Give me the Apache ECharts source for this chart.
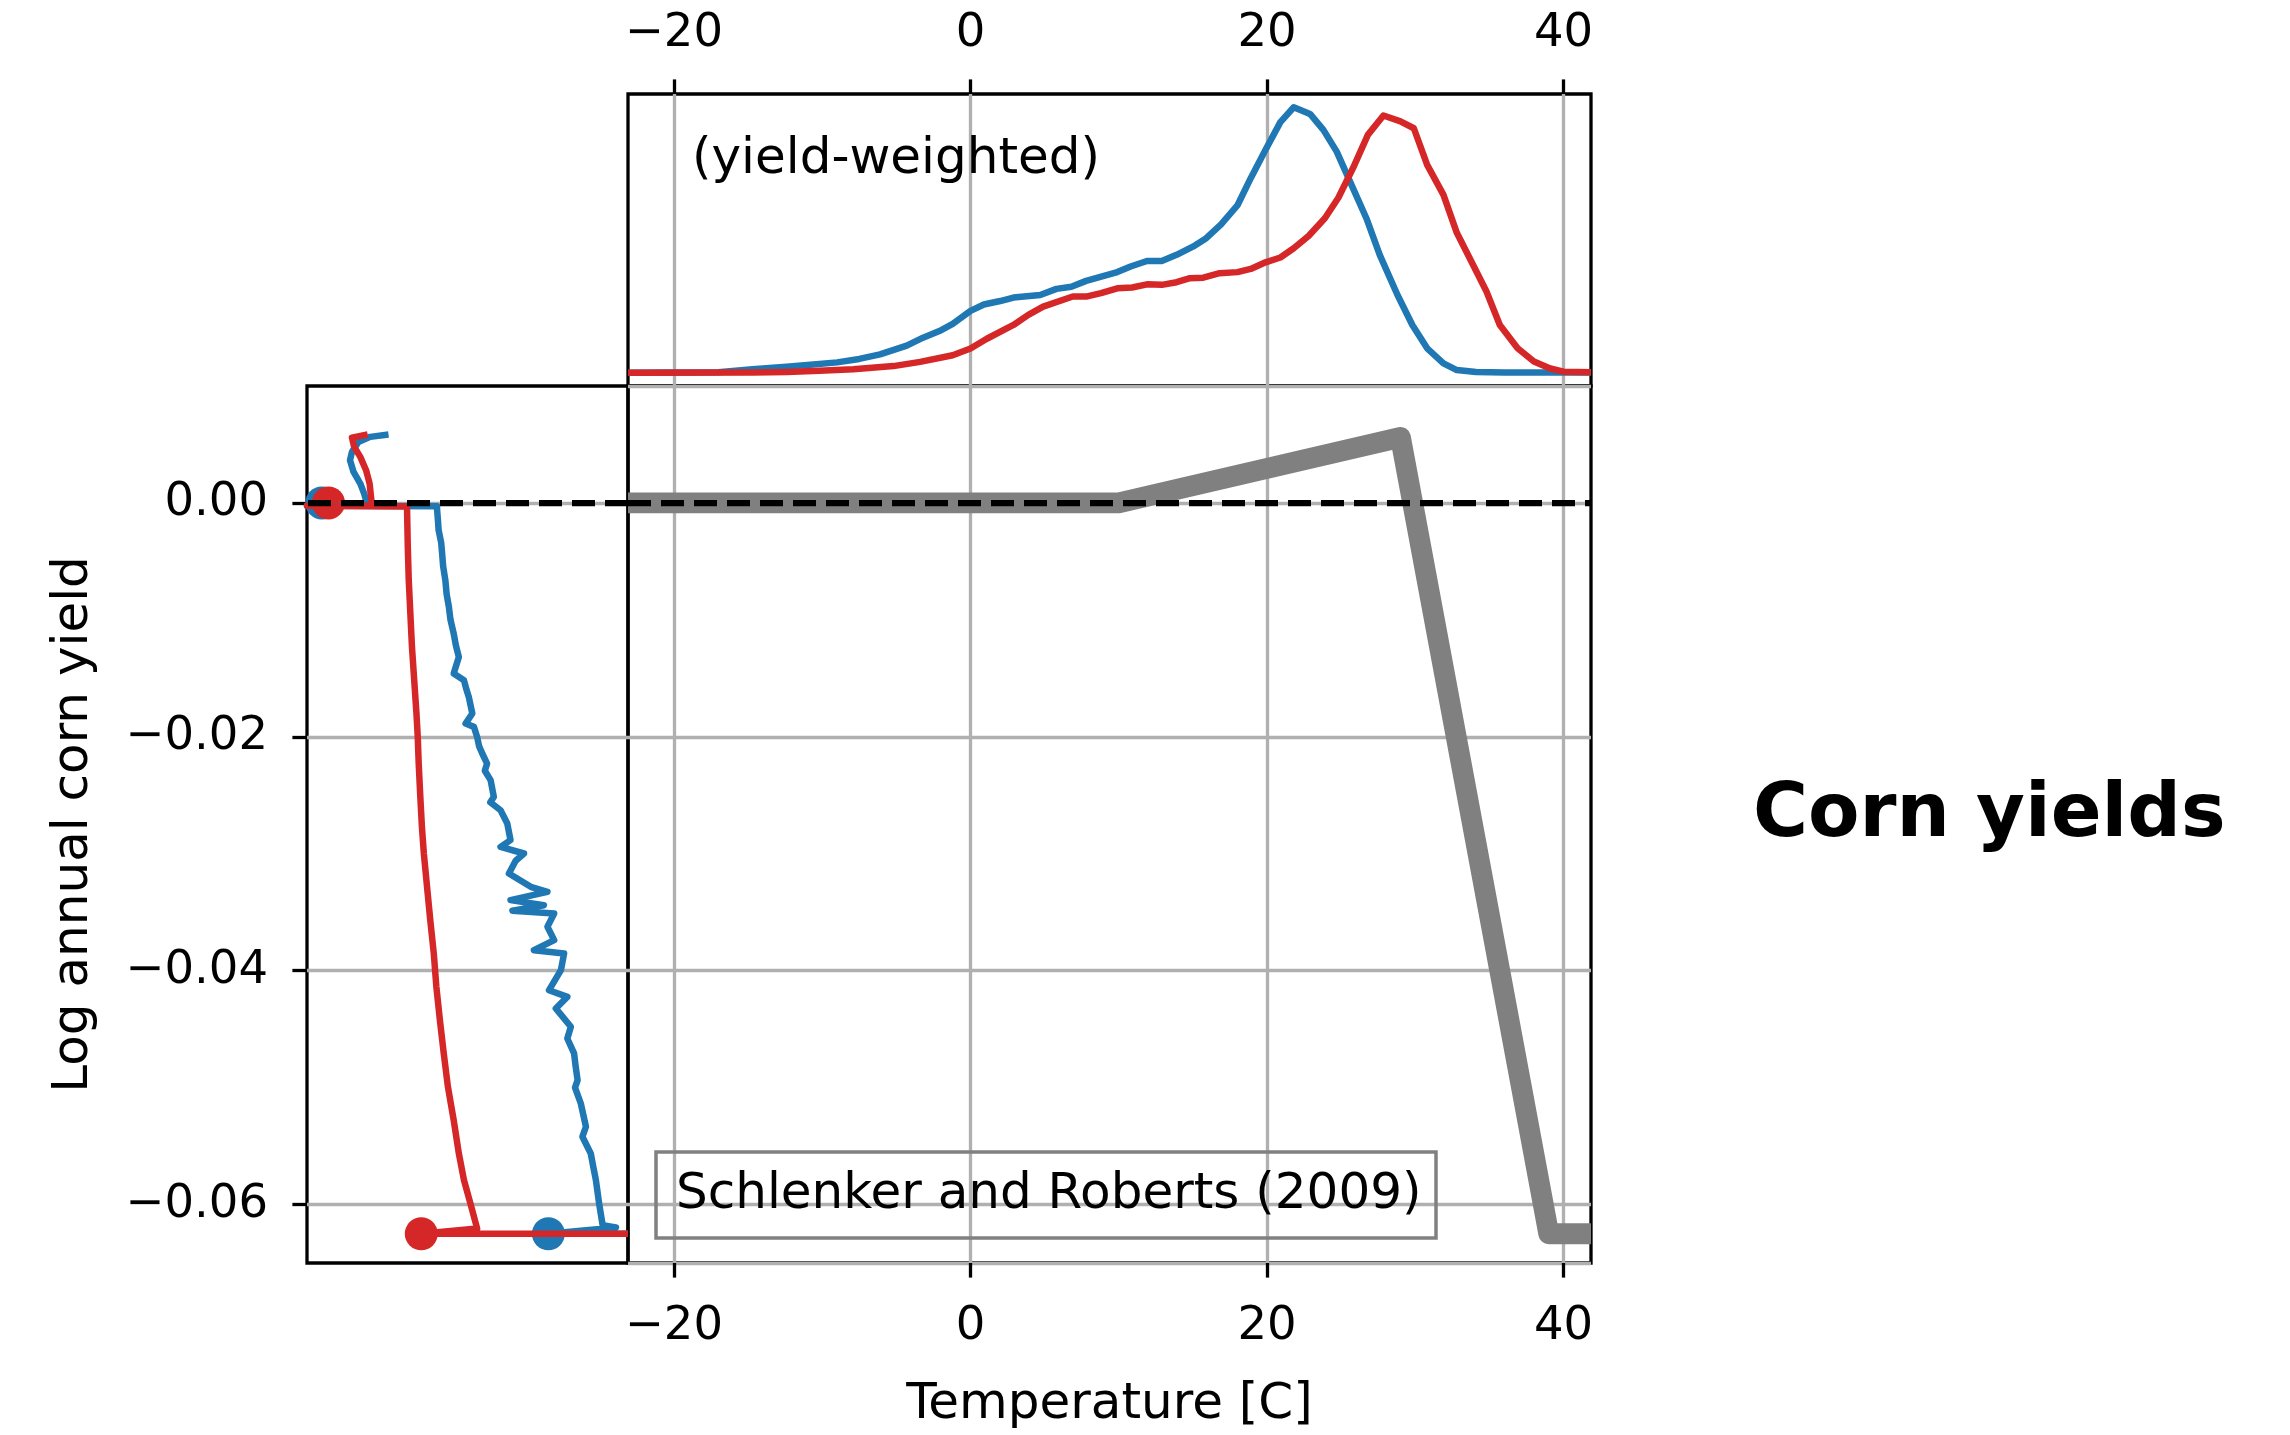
<!DOCTYPE html>
<html><head><meta charset="utf-8">
<script src="https://cdn.jsdelivr.net/npm/echarts@6/dist/echarts.min.js"></script>
<style>html,body{margin:0;padding:0;background:#fff}#c{width:2290px;height:1435px}</style>
</head><body><div id="c"></div>
<script>
// ---------------- data ----------------
const tempTicks = [-20, 0, 20, 40];
const yieldTicks = [-0.06, -0.04, -0.02, 0];
const tempRange = [-23.1, 41.85];
const yieldRange = [-0.065, 0.01];

// top panel: yield-weighted temperature distribution [temperature, relative density]
const densityBlue = [[-23.1,0],[-17,0.002],[-14.7,0.013],[-12.4,0.023],[-11,0.029],[-9,0.039],[-7.5,0.052],[-6.1,0.069],[-4.3,0.102],[-3.2,0.132],[-2.1,0.157],[-1.2,0.184],[0,0.233],[0.9,0.257],[2,0.270],[2.9,0.283],[4.7,0.293],[5.8,0.316],[6.8,0.324],[7.8,0.346],[9.9,0.379],[10.8,0.400],[11.9,0.421],[12.9,0.421],[13.9,0.444],[15,0.475],[15.9,0.507],[16.9,0.559],[18,0.630],[18.9,0.733],[19.9,0.840],[20.9,0.944],[21.8,1.0],[22.9,0.975],[23.8,0.915],[24.7,0.833],[25.6,0.720],[26.7,0.582],[27.6,0.444],[28.8,0.293],[29.8,0.180],[30.8,0.092],[31.9,0.035],[32.8,0.010],[34.1,0.003],[36,0.001],[41.85,0.001]];
const densityRed = [[-23.1,0],[-14.7,0.001],[-12.4,0.003],[-10.2,0.007],[-7.9,0.013],[-5.2,0.025],[-3.4,0.041],[-1.2,0.066],[0,0.091],[1.1,0.128],[2.9,0.180],[3.9,0.218],[4.9,0.249],[6.9,0.287],[7.8,0.287],[8.8,0.300],[9.9,0.318],[10.9,0.321],[11.9,0.333],[12.9,0.331],[13.9,0.341],[14.8,0.356],[15.7,0.358],[16.8,0.375],[18,0.379],[18.9,0.391],[19.9,0.416],[20.9,0.434],[21.8,0.469],[22.8,0.515],[23.9,0.582],[24.8,0.658],[25.8,0.771],[26.8,0.896],[27.85,0.969],[29,0.947],[29.9,0.921],[30.8,0.783],[31.9,0.670],[32.8,0.527],[33.9,0.406],[34.8,0.306],[35.7,0.180],[36.9,0.092],[38,0.042],[39.1,0.016],[40,0.004],[41.85,0.002]];

// main panel: piecewise-linear yield response
const responseTemps = [-23.1, 10, 29, 39, 41.85];
const responseYield = [0, 0, 0.0056, -0.0625, -0.0625];

// left panel: distribution of yield impacts [density (arb.), log yield]
const marginBlue = [[74.6,0.00585],[80.3,0.00565],[84.0,0.00522],[86.0,0.00436],[86.6,0.00365],[85.5,0.00265],[83.4,0.00166],[82.2,0.00080],[81.6,0.00023],[81.4,-0.00025],[100,-0.00025],[59.5,-0.00028],[59.5,-0.00048],[59.2,-0.00150],[59.0,-0.00233],[58.2,-0.00340],[57.9,-0.00433],[57.6,-0.00540],[56.9,-0.00661],[56.5,-0.00780],[55.8,-0.00889],[55.3,-0.01000],[54.3,-0.01117],[53.6,-0.01220],[52.7,-0.01317],[54.3,-0.01459],[51.1,-0.01516],[50.4,-0.01590],[49.6,-0.01659],[48.5,-0.01801],[50.6,-0.01887],[48.0,-0.01915],[47.0,-0.02001],[46.4,-0.02080],[45.4,-0.02143],[43.9,-0.02229],[44.6,-0.02290],[42.8,-0.02371],[41.8,-0.02514],[42.9,-0.02560],[39.7,-0.02628],[37.6,-0.02742],[36.6,-0.02884],[39.7,-0.02941],[32.4,-0.02998],[35.0,-0.03060],[37.1,-0.03169],[30.3,-0.03283],[25.1,-0.03326],[36.6,-0.03397],[26.2,-0.03440],[36.0,-0.03488],[23.0,-0.03511],[25.1,-0.03625],[23.0,-0.03739],[29.3,-0.03825],[19.9,-0.03853],[20.9,-0.03996],[24.6,-0.04167],[18.9,-0.04224],[22.5,-0.04323],[17.8,-0.04480],[18.9,-0.04580],[16.8,-0.04708],[16.3,-0.04820],[15.7,-0.04936],[16.5,-0.05000],[14.7,-0.05136],[13.1,-0.05335],[14.2,-0.05420],[11.6,-0.05563],[10.8,-0.05680],[10.0,-0.05791],[9.0,-0.05991],[7.9,-0.06176],[3.75,-0.06196],[24.8,-0.0625],[0,-0.0625]];
const marginRed = [[81.1,0.00585],[86.0,0.00559],[85.3,0.00479],[83.4,0.00394],[81.6,0.00280],[80.5,0.00166],[80.0,0.00037],[79.8,-0.00025],[100,-0.00025],[68.85,-0.00030],[68.6,-0.00376],[68.3,-0.00661],[67.8,-0.00946],[67.3,-0.01231],[66.6,-0.01516],[65.9,-0.01801],[65.5,-0.02001],[65.2,-0.02229],[64.7,-0.02514],[64.2,-0.02770],[63.6,-0.02998],[62.6,-0.03283],[61.6,-0.03568],[60.5,-0.03853],[59.7,-0.04138],[58.6,-0.04423],[57.4,-0.04708],[56.1,-0.04993],[54.3,-0.05278],[52.7,-0.05563],[51.1,-0.05791],[49.1,-0.05991],[47.0,-0.06205],[64.4,-0.0625],[0,-0.0625]];
const massBlue = [[95.4, 0], [24.8, -0.0625]];
const massRed = [[93.3, 0], [64.4, -0.0625]];
const zeroYield = 0;

// ---------------- chart ----------------
const FONT = 'DejaVu Sans';
const BLUE = '#1f77b4', RED = '#d62728';
const TICK_FS = 46.5, TITLE_FS = 50;
const minus = v => (v < 0 ? '\u2212' : '') + Math.abs(v);
const tickStyle = {show: true, inside: false, length: 14.6, lineStyle: {color: '#000', width: 3.3}};
const gridLine = {show: true, lineStyle: {color: '#b0b0b0', width: 3.3}};
const labelBase = {color: '#000', fontSize: TICK_FS, fontFamily: FONT};
const noLine = {show: false, onZero: false};
const dashLine = {
  silent: true, symbol: ['none', 'none'], label: {show: false}, animation: false,
  emphasis: {disabled: true},
  lineStyle: {color: '#000', width: 6.25, type: [23, 10], cap: 'butt'},
  data: [{yAxis: zeroYield}]
};
const border = {show: true, borderColor: '#000', borderWidth: 3.3, backgroundColor: 'transparent', outerBoundsMode: 'none'};

const chart = echarts.init(document.getElementById('c'), null, {renderer: 'canvas'});
chart.setOption({
  animation: false,
  backgroundColor: '#fff',
  textStyle: {fontFamily: FONT},
  grid: [
    Object.assign({left: 628, top: 94, width: 963, height: 292}, border),
    Object.assign({left: 628, top: 386, width: 963, height: 877}, border),
    Object.assign({left: 307, top: 386, width: 321, height: 877}, border)
  ],
  xAxis: [
    {gridIndex: 0, type: 'value', position: 'top', min: tempRange[0], max: tempRange[1], splitNumber: 3,
     axisLine: noLine, axisTick: Object.assign({customValues: tempTicks}, tickStyle),
     axisLabel: Object.assign({customValues: tempTicks, formatter: minus, margin: 37}, labelBase),
     splitLine: gridLine},
    {gridIndex: 1, type: 'value', position: 'bottom', min: tempRange[0], max: tempRange[1], splitNumber: 3,
     axisLine: noLine, axisTick: Object.assign({customValues: tempTicks}, tickStyle),
     axisLabel: Object.assign({customValues: tempTicks, formatter: minus, margin: 40}, labelBase),
     splitLine: gridLine,
     name: 'Temperature [C]', nameLocation: 'middle', nameGap: 117,
     nameTextStyle: {color: '#000', fontSize: TITLE_FS, fontFamily: FONT}},
    {gridIndex: 2, type: 'value', min: 0, max: 100, inverse: true, show: false, axisLine: noLine}
  ],
  yAxis: [
    {gridIndex: 0, type: 'value', min: -0.05, max: 1.05, show: false, axisLine: noLine},
    {gridIndex: 1, type: 'value', min: yieldRange[0], max: yieldRange[1], splitNumber: 4,
     axisLine: noLine, axisTick: {show: false}, axisLabel: {show: false}, splitLine: gridLine},
    {gridIndex: 2, type: 'value', min: yieldRange[0], max: yieldRange[1], splitNumber: 4,
     axisLine: noLine, axisTick: Object.assign({customValues: yieldTicks}, tickStyle),
     axisLabel: Object.assign({customValues: yieldTicks, margin: 39,
        formatter: v => (v < 0 ? '\u2212' : '') + Math.abs(v).toFixed(2)}, labelBase),
     splitLine: gridLine,
     name: 'Log annual corn yield', nameLocation: 'middle', nameGap: 208, nameRotate: 90,
     nameTextStyle: {color: '#000', fontSize: TITLE_FS, fontFamily: FONT}}
  ],
  series: [
    {type: 'line', xAxisIndex: 0, yAxisIndex: 0, data: densityBlue, symbol: 'none', clip: true,
     lineStyle: {color: BLUE, width: 6.5, join: 'round'}},
    {type: 'line', xAxisIndex: 0, yAxisIndex: 0, data: densityRed, symbol: 'none', clip: true,
     lineStyle: {color: RED, width: 6.5, join: 'round'}},
    {type: 'line', xAxisIndex: 1, yAxisIndex: 1, symbol: 'none', clip: true,
     data: responseTemps.map((t, i) => [t, responseYield[i]]),
     lineStyle: {color: '#808080', width: 20.8, join: 'round', cap: 'butt'},
     markLine: dashLine},
    {type: 'line', xAxisIndex: 2, yAxisIndex: 2, data: marginBlue, symbol: 'none', clip: true,
     lineStyle: {color: BLUE, width: 6.5, join: 'round'},
     markLine: dashLine},
    {type: 'line', xAxisIndex: 2, yAxisIndex: 2, data: marginRed, symbol: 'none', clip: true,
     lineStyle: {color: RED, width: 6.5, join: 'round'}},
    {type: 'scatter', xAxisIndex: 2, yAxisIndex: 2, data: massBlue, symbolSize: 33, clip: false,
     itemStyle: {color: BLUE, opacity: 1}},
    {type: 'scatter', xAxisIndex: 2, yAxisIndex: 2, data: massRed, symbolSize: 33, clip: false,
     itemStyle: {color: RED, opacity: 1}}
  ],
  graphic: [
    {type: 'text', x: 692, y: 160, z: 100, silent: true,
     style: {text: '(yield-weighted)', font: '50px "DejaVu Sans"', fill: '#000',
             align: 'left', verticalAlign: 'middle', textAlign: 'left', textVerticalAlign: 'middle'}},
    {type: 'rect', z: 100, silent: true, shape: {x: 656, y: 1152, width: 780, height: 86},
     style: {fill: 'none', stroke: '#808080', lineWidth: 3.5}},
    {type: 'text', x: 676, y: 1195, z: 101, silent: true,
     style: {text: 'Schlenker and Roberts (2009)', font: '50px "DejaVu Sans"', fill: '#000',
             align: 'left', verticalAlign: 'middle', textAlign: 'left', textVerticalAlign: 'middle'}},
    {type: 'text', x: 1753, y: 817, z: 100, silent: true,
     style: {text: 'Corn yields', font: 'bold 75px "DejaVu Sans"', fill: '#000',
             align: 'left', verticalAlign: 'middle', textAlign: 'left', textVerticalAlign: 'middle'}}
  ]
});
</script>
</body></html>
